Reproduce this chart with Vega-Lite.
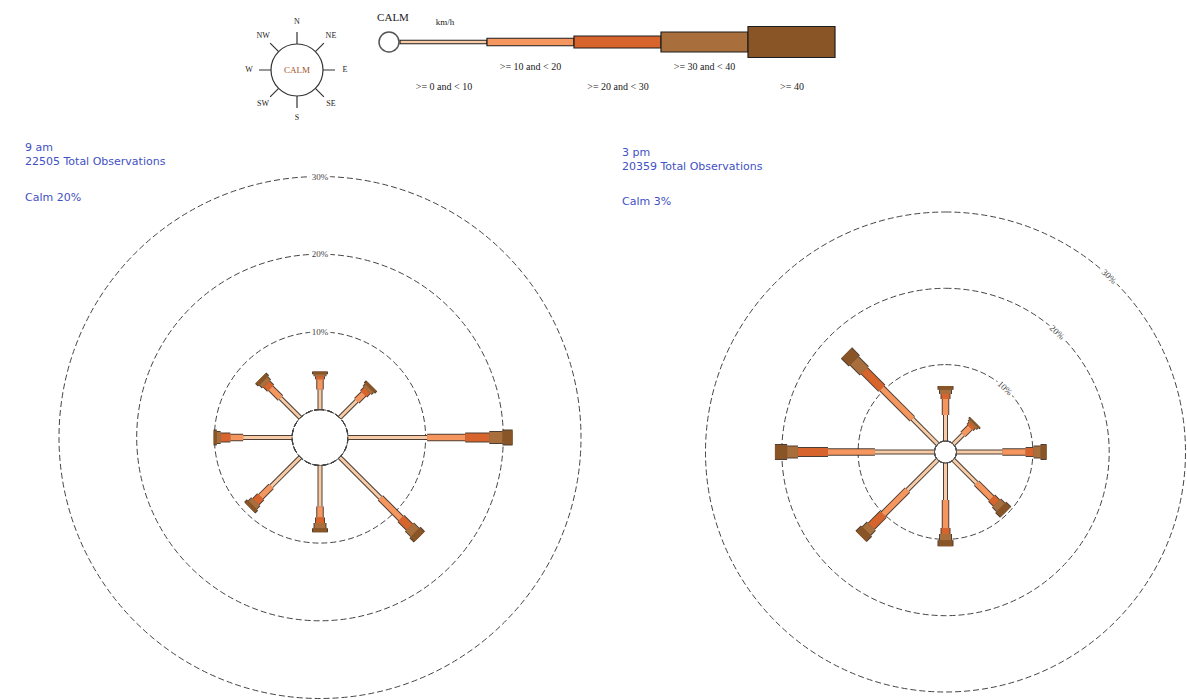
{
  "$schema": "https://vega.github.io/schema/vega-lite/v6.json",
  "padding": 0,
  "bounds": "flush",
  "spacing": 65,
  "config": {"view": {"stroke": null}, "legend": {"disable": true}},
  "datasets": {
    "compass": [
      {"dir": "N", "deg": 0}, {"dir": "NE", "deg": 45}, {"dir": "E", "deg": 90}, {"dir": "SE", "deg": 135},
      {"dir": "S", "deg": 180}, {"dir": "SW", "deg": 225}, {"dir": "W", "deg": 270}, {"dir": "NW", "deg": 315}
    ],
    "classes": [
      {"c": "0-10", "label": ">= 0 and < 10", "lo": 0, "hi": 10},
      {"c": "10-20", "label": ">= 10 and < 20", "lo": 10, "hi": 20},
      {"c": "20-30", "label": ">= 20 and < 30", "lo": 20, "hi": 30},
      {"c": "30-40", "label": ">= 30 and < 40", "lo": 30, "hi": 40},
      {"c": "40+", "label": ">= 40", "lo": 40, "hi": 50}
    ],
    "rings": [{"ring": 10, "label": "10%"}, {"ring": 20, "label": "20%"}, {"ring": 30, "label": "30%"}],
    "rose": [
      {"t": "9 am", "dir": "N", "deg": 0, "c": "0-10", "pct": 2.6},
      {"t": "9 am", "dir": "N", "deg": 0, "c": "10-20", "pct": 1.3},
      {"t": "9 am", "dir": "N", "deg": 0, "c": "20-30", "pct": 0.4},
      {"t": "9 am", "dir": "N", "deg": 0, "c": "30-40", "pct": 0.25},
      {"t": "9 am", "dir": "N", "deg": 0, "c": "40+", "pct": 0.35},
      {"t": "9 am", "dir": "NE", "deg": 45, "c": "0-10", "pct": 3.1},
      {"t": "9 am", "dir": "NE", "deg": 45, "c": "10-20", "pct": 1.25},
      {"t": "9 am", "dir": "NE", "deg": 45, "c": "20-30", "pct": 0.65},
      {"t": "9 am", "dir": "NE", "deg": 45, "c": "30-40", "pct": 0.4},
      {"t": "9 am", "dir": "NE", "deg": 45, "c": "40+", "pct": 0.4},
      {"t": "9 am", "dir": "E", "deg": 90, "c": "0-10", "pct": 10.2},
      {"t": "9 am", "dir": "E", "deg": 90, "c": "10-20", "pct": 4.9},
      {"t": "9 am", "dir": "E", "deg": 90, "c": "20-30", "pct": 3.1},
      {"t": "9 am", "dir": "E", "deg": 90, "c": "30-40", "pct": 1.7},
      {"t": "9 am", "dir": "E", "deg": 90, "c": "40+", "pct": 1.3},
      {"t": "9 am", "dir": "SE", "deg": 135, "c": "0-10", "pct": 7.4},
      {"t": "9 am", "dir": "SE", "deg": 135, "c": "10-20", "pct": 3.75},
      {"t": "9 am", "dir": "SE", "deg": 135, "c": "20-30", "pct": 1.55},
      {"t": "9 am", "dir": "SE", "deg": 135, "c": "30-40", "pct": 1.0},
      {"t": "9 am", "dir": "SE", "deg": 135, "c": "40+", "pct": 0.8},
      {"t": "9 am", "dir": "S", "deg": 180, "c": "0-10", "pct": 5.3},
      {"t": "9 am", "dir": "S", "deg": 180, "c": "10-20", "pct": 1.4},
      {"t": "9 am", "dir": "S", "deg": 180, "c": "20-30", "pct": 0.7},
      {"t": "9 am", "dir": "S", "deg": 180, "c": "30-40", "pct": 0.7},
      {"t": "9 am", "dir": "S", "deg": 180, "c": "40+", "pct": 0.5},
      {"t": "9 am", "dir": "SW", "deg": 225, "c": "0-10", "pct": 5.3},
      {"t": "9 am", "dir": "SW", "deg": 225, "c": "10-20", "pct": 1.9},
      {"t": "9 am", "dir": "SW", "deg": 225, "c": "20-30", "pct": 0.9},
      {"t": "9 am", "dir": "SW", "deg": 225, "c": "30-40", "pct": 0.6},
      {"t": "9 am", "dir": "SW", "deg": 225, "c": "40+", "pct": 0.5},
      {"t": "9 am", "dir": "W", "deg": 270, "c": "0-10", "pct": 6.3},
      {"t": "9 am", "dir": "W", "deg": 270, "c": "10-20", "pct": 1.65},
      {"t": "9 am", "dir": "W", "deg": 270, "c": "20-30", "pct": 1.25},
      {"t": "9 am", "dir": "W", "deg": 270, "c": "30-40", "pct": 0.5},
      {"t": "9 am", "dir": "W", "deg": 270, "c": "40+", "pct": 0.4},
      {"t": "9 am", "dir": "NW", "deg": 315, "c": "0-10", "pct": 3.6},
      {"t": "9 am", "dir": "NW", "deg": 315, "c": "10-20", "pct": 1.8},
      {"t": "9 am", "dir": "NW", "deg": 315, "c": "20-30", "pct": 0.75},
      {"t": "9 am", "dir": "NW", "deg": 315, "c": "30-40", "pct": 0.55},
      {"t": "9 am", "dir": "NW", "deg": 315, "c": "40+", "pct": 0.5},
      {"t": "3 pm", "dir": "N", "deg": 0, "c": "0-10", "pct": 3.4},
      {"t": "3 pm", "dir": "N", "deg": 0, "c": "10-20", "pct": 2.1},
      {"t": "3 pm", "dir": "N", "deg": 0, "c": "20-30", "pct": 0.65},
      {"t": "3 pm", "dir": "N", "deg": 0, "c": "30-40", "pct": 0.55},
      {"t": "3 pm", "dir": "N", "deg": 0, "c": "40+", "pct": 0.5},
      {"t": "3 pm", "dir": "NE", "deg": 45, "c": "0-10", "pct": 1.8},
      {"t": "3 pm", "dir": "NE", "deg": 45, "c": "10-20", "pct": 1.3},
      {"t": "3 pm", "dir": "NE", "deg": 45, "c": "20-30", "pct": 0.4},
      {"t": "3 pm", "dir": "NE", "deg": 45, "c": "30-40", "pct": 0.3},
      {"t": "3 pm", "dir": "NE", "deg": 45, "c": "40+", "pct": 0.25},
      {"t": "3 pm", "dir": "E", "deg": 90, "c": "0-10", "pct": 6.0},
      {"t": "3 pm", "dir": "E", "deg": 90, "c": "10-20", "pct": 3.05},
      {"t": "3 pm", "dir": "E", "deg": 90, "c": "20-30", "pct": 1.05},
      {"t": "3 pm", "dir": "E", "deg": 90, "c": "30-40", "pct": 0.9},
      {"t": "3 pm", "dir": "E", "deg": 90, "c": "40+", "pct": 0.8},
      {"t": "3 pm", "dir": "SE", "deg": 135, "c": "0-10", "pct": 4.3},
      {"t": "3 pm", "dir": "SE", "deg": 135, "c": "10-20", "pct": 2.8},
      {"t": "3 pm", "dir": "SE", "deg": 135, "c": "20-30", "pct": 0.9},
      {"t": "3 pm", "dir": "SE", "deg": 135, "c": "30-40", "pct": 0.8},
      {"t": "3 pm", "dir": "SE", "deg": 135, "c": "40+", "pct": 0.9},
      {"t": "3 pm", "dir": "S", "deg": 180, "c": "0-10", "pct": 4.85},
      {"t": "3 pm", "dir": "S", "deg": 180, "c": "10-20", "pct": 3.65},
      {"t": "3 pm", "dir": "S", "deg": 180, "c": "20-30", "pct": 0.8},
      {"t": "3 pm", "dir": "S", "deg": 180, "c": "30-40", "pct": 0.8},
      {"t": "3 pm", "dir": "S", "deg": 180, "c": "40+", "pct": 0.8},
      {"t": "3 pm", "dir": "SW", "deg": 225, "c": "0-10", "pct": 5.6},
      {"t": "3 pm", "dir": "SW", "deg": 225, "c": "10-20", "pct": 4.5},
      {"t": "3 pm", "dir": "SW", "deg": 225, "c": "20-30", "pct": 2.2},
      {"t": "3 pm", "dir": "SW", "deg": 225, "c": "30-40", "pct": 0.9},
      {"t": "3 pm", "dir": "SW", "deg": 225, "c": "40+", "pct": 1.0},
      {"t": "3 pm", "dir": "W", "deg": 270, "c": "0-10", "pct": 7.8},
      {"t": "3 pm", "dir": "W", "deg": 270, "c": "10-20", "pct": 6.15},
      {"t": "3 pm", "dir": "W", "deg": 270, "c": "20-30", "pct": 3.95},
      {"t": "3 pm", "dir": "W", "deg": 270, "c": "30-40", "pct": 1.4},
      {"t": "3 pm", "dir": "W", "deg": 270, "c": "40+", "pct": 1.6},
      {"t": "3 pm", "dir": "NW", "deg": 315, "c": "0-10", "pct": 4.7},
      {"t": "3 pm", "dir": "NW", "deg": 315, "c": "10-20", "pct": 5.65},
      {"t": "3 pm", "dir": "NW", "deg": 315, "c": "20-30", "pct": 3.25},
      {"t": "3 pm", "dir": "NW", "deg": 315, "c": "30-40", "pct": 1.85},
      {"t": "3 pm", "dir": "NW", "deg": 315, "c": "40+", "pct": 1.45}
    ]
  },
  "vconcat": [
    {
      "width": 594,
      "height": 140,
      "layer": [
        {
          "data": {"name": "compass"},
          "mark": {"type": "arc", "filled": false, "stroke": "#333", "strokeWidth": 1.2, "radius": 38, "radius2": 26, "strokeJoin": "bevel"},
          "encoding": {
            "theta": {"field": "deg", "type": "quantitative", "stack": null, "scale": {"type": "linear", "domain": [0, 360], "range": [0, 6.283185307]}},
            "theta2": {"field": "deg"}
          }
        },
        {
          "data": {"values": [{"calm": "CALM"}]},
          "mark": {"type": "arc", "theta": 0, "theta2": 6.2832, "radius": 26, "fill": "white", "stroke": "#333", "strokeWidth": 1.2},
          "encoding": {}
        },
        {
          "data": {"name": "compass"},
          "mark": {"type": "text", "radius": 48, "font": "Liberation Serif", "fontSize": 8, "color": "#222", "baseline": "middle", "align": "center"},
          "encoding": {
            "theta": {"field": "deg", "type": "quantitative", "stack": null, "scale": {"type": "linear", "domain": [0, 360], "range": [0, 6.283185307]}},
            "text": {"field": "dir"}
          }
        },
        {
          "data": {"values": [{"calm": "CALM"}]},
          "mark": {"type": "text", "font": "Liberation Serif", "fontSize": 9, "color": "#a0522d", "baseline": "middle", "align": "center"},
          "encoding": {"text": {"field": "calm"}}
        },
        {
          "data": {"name": "classes"},
          "mark": {"type": "bar", "stroke": "#1e1e1e", "strokeWidth": 1.2, "yOffset": -28},
          "encoding": {
            "x": {"field": "lo", "type": "quantitative", "scale": {"domain": [0, 50], "range": [400, 835]}, "axis": null},
            "x2": {"field": "hi"},
            "size": {"field": "c", "type": "ordinal", "scale": {"type": "ordinal", "domain": ["0-10", "10-20", "20-30", "30-40", "40+"], "range": [3.5, 7.5, 12, 20, 31]}},
            "color": {"field": "c", "type": "nominal", "scale": {"domain": ["0-10", "10-20", "20-30", "30-40", "40+"], "range": ["#f6cba6", "#f5965f", "#d8642d", "#a86e3b", "#8a5526"]}}
          }
        },
        {
          "data": {"name": "classes"},
          "transform": [{"filter": {"field": "c", "oneOf": ["10-20", "30-40"]}}],
          "mark": {"type": "text", "font": "Liberation Serif", "fontSize": 10, "color": "#222", "dx": 43.5, "dy": -3, "align": "center", "baseline": "middle"},
          "encoding": {
            "x": {"field": "lo", "type": "quantitative"},
            "text": {"field": "label"}
          }
        },
        {
          "data": {"name": "classes"},
          "transform": [{"filter": {"field": "c", "oneOf": ["0-10", "20-30", "40+"]}}],
          "mark": {"type": "text", "font": "Liberation Serif", "fontSize": 10, "color": "#222", "dx": 44, "dy": 17, "align": "center", "baseline": "middle"},
          "encoding": {
            "x": {"field": "lo", "type": "quantitative"},
            "text": {"field": "label"}
          }
        },
        {
          "data": {"values": [{"calm": "CALM", "unit": "km/h"}]},
          "mark": {"type": "point", "shape": "circle", "size": 400, "filled": true, "fill": "white", "stroke": "#555", "strokeWidth": 1.5, "opacity": 1, "xOffset": -11, "yOffset": -28},
          "encoding": {"x": {"datum": 0, "type": "quantitative"}}
        },
        {
          "data": {"values": [{"calm": "CALM", "unit": "km/h"}]},
          "mark": {"type": "text", "font": "Liberation Serif", "fontSize": 11, "color": "#222", "dx": -7, "dy": -52, "align": "center", "baseline": "middle"},
          "encoding": {"x": {"datum": 0, "type": "quantitative"}, "text": {"field": "calm"}}
        },
        {
          "data": {"values": [{"calm": "CALM", "unit": "km/h"}]},
          "mark": {"type": "text", "font": "Liberation Serif", "fontSize": 9, "color": "#222", "dx": 45, "dy": -48, "align": "center", "baseline": "middle"},
          "encoding": {"x": {"datum": 0, "type": "quantitative"}, "text": {"field": "unit"}}
        }
      ],
      "resolve": {"scale": {"size": "independent"}}
    },
    {
      "hconcat": [
        {
          "width": 640,
          "height": 465,
          "title": {"text": ["9 am", "22505 Total Observations"], "subtitle": "Calm 20%", "subtitlePadding": 25, "anchor": "start", "frame": "group", "dx": 25, "dy": 34, "offset": 4, "font": "DejaVu Sans", "fontSize": 11, "fontWeight": "normal", "color": "#3f51c4", "lineHeight": 13.5, "subtitleFont": "DejaVu Sans", "subtitleFontSize": 11, "subtitleColor": "#3f51c4", "subtitleLineHeight": 13.5},
          "layer": [
            {
              "data": {"name": "rings"},
              "mark": {"type": "arc", "theta": 0, "theta2": 6.2832, "filled": false, "stroke": "#444", "strokeWidth": 1, "strokeDash": [6, 3]},
              "encoding": {"radius": {"field": "ring", "type": "quantitative", "stack": null, "scale": {"type": "linear", "zero": false, "domain": [-3.59, 30], "range": [0, 261]}}}
            },
            {
              "data": {"name": "rose"},
              "transform": [
                {"filter": {"field": "t", "equal": "9 am"}},
                {"stack": "pct", "groupby": ["dir"], "sort": [{"field": "c", "order": "ascending"}], "as": ["r0", "r1"]}
              ],
              "mark": {"type": "arc", "filled": false, "stroke": "#3a2a1f", "strokeOpacity": 0.9, "strokeJoin": "bevel"},
              "encoding": {
                "theta": {"field": "deg", "type": "quantitative", "stack": null, "scale": {"type": "linear", "domain": [0, 360], "range": [0, 6.283185307]}},
                "theta2": {"field": "deg"},
                "radius": {"field": "r1", "type": "quantitative", "stack": null, "scale": {"type": "linear", "zero": false, "domain": [-3.59, 30], "range": [0, 261]}},
                "radius2": {"field": "r0"},
                "strokeWidth": {"field": "c", "type": "ordinal", "scale": {"type": "ordinal", "domain": ["0-10", "10-20", "20-30", "30-40", "40+"], "range": [5, 7.5, 10, 13, 16]}}
              }
            },
            {
              "data": {"name": "rose"},
              "transform": [
                {"filter": {"field": "t", "equal": "9 am"}},
                {"stack": "pct", "groupby": ["dir"], "sort": [{"field": "c", "order": "ascending"}], "as": ["r0", "r1"]}
              ],
              "mark": {"type": "arc", "filled": false, "strokeJoin": "bevel"},
              "encoding": {
                "theta": {"field": "deg", "type": "quantitative", "stack": null, "scale": {"type": "linear", "domain": [0, 360], "range": [0, 6.283185307]}},
                "theta2": {"field": "deg"},
                "radius": {"field": "r1", "type": "quantitative", "stack": null, "scale": {"type": "linear", "zero": false, "domain": [-3.59, 30], "range": [0, 261]}},
                "radius2": {"field": "r0"},
                "strokeWidth": {"field": "c", "type": "ordinal", "scale": {"type": "ordinal", "domain": ["0-10", "10-20", "20-30", "30-40", "40+"], "range": [3, 5.5, 8, 11, 14]}},
                "stroke": {"field": "c", "type": "nominal", "scale": {"domain": ["0-10", "10-20", "20-30", "30-40", "40+"], "range": ["#f6cba6", "#f5965f", "#d8642d", "#a86e3b", "#8a5526"]}}
              }
            },
            {
              "data": {"values": [{"calm": 20}]},
              "mark": {"type": "arc", "theta": 0, "theta2": 6.2832, "fill": "white", "stroke": "#444", "strokeWidth": 1, "strokeDash": [6, 3]},
              "encoding": {"radius": {"datum": 0, "type": "quantitative", "stack": null, "scale": {"type": "linear", "zero": false, "domain": [-3.59, 30], "range": [0, 261]}}}
            },
            {
              "data": {"name": "rings"},
              "mark": {"type": "text", "font": "Liberation Serif", "fontSize": 9, "color": "white", "stroke": "white", "strokeWidth": 5, "align": "center", "baseline": "middle"},
              "encoding": {
                "theta": {"datum": 0, "type": "quantitative", "scale": {"type": "linear", "domain": [0, 360], "range": [0, 6.283185307]}},
                "radius": {"field": "ring", "type": "quantitative", "stack": null, "scale": {"type": "linear", "zero": false, "domain": [-3.59, 30], "range": [0, 261]}},
                "text": {"field": "label"}
              }
            },
            {
              "data": {"name": "rings"},
              "mark": {"type": "text", "font": "Liberation Serif", "fontSize": 9, "color": "#444", "align": "center", "baseline": "middle"},
              "encoding": {
                "theta": {"datum": 0, "type": "quantitative", "scale": {"type": "linear", "domain": [0, 360], "range": [0, 6.283185307]}},
                "radius": {"field": "ring", "type": "quantitative", "stack": null, "scale": {"type": "linear", "zero": false, "domain": [-3.59, 30], "range": [0, 261]}},
                "text": {"field": "label"}
              }
            }
          ],
          "resolve": {"scale": {"strokeWidth": "independent"}}
        },
        {
          "width": 483,
          "height": 494,
          "title": {"text": ["3 pm", "20359 Total Observations"], "subtitle": "Calm 3%", "subtitlePadding": 24, "anchor": "start", "frame": "group", "dx": -82, "dy": 6, "offset": 4, "font": "DejaVu Sans", "fontSize": 11, "fontWeight": "normal", "color": "#3f51c4", "lineHeight": 14, "subtitleFont": "DejaVu Sans", "subtitleFontSize": 11, "subtitleColor": "#3f51c4", "subtitleLineHeight": 13.5},
          "layer": [
            {
              "data": {"name": "rings"},
              "mark": {"type": "arc", "theta": 0, "theta2": 6.2832, "filled": false, "stroke": "#444", "strokeWidth": 1, "strokeDash": [6, 3]},
              "encoding": {"radius": {"field": "ring", "type": "quantitative", "stack": null, "scale": {"type": "linear", "zero": false, "domain": [-1.45, 30], "range": [0, 240]}}}
            },
            {
              "data": {"name": "rose"},
              "transform": [
                {"filter": {"field": "t", "equal": "3 pm"}},
                {"stack": "pct", "groupby": ["dir"], "sort": [{"field": "c", "order": "ascending"}], "as": ["r0", "r1"]}
              ],
              "mark": {"type": "arc", "filled": false, "stroke": "#3a2a1f", "strokeOpacity": 0.9, "strokeJoin": "bevel"},
              "encoding": {
                "theta": {"field": "deg", "type": "quantitative", "stack": null, "scale": {"type": "linear", "domain": [0, 360], "range": [0, 6.283185307]}},
                "theta2": {"field": "deg"},
                "radius": {"field": "r1", "type": "quantitative", "stack": null, "scale": {"type": "linear", "zero": false, "domain": [-1.45, 30], "range": [0, 240]}},
                "radius2": {"field": "r0"},
                "strokeWidth": {"field": "c", "type": "ordinal", "scale": {"type": "ordinal", "domain": ["0-10", "10-20", "20-30", "30-40", "40+"], "range": [5, 7.5, 10, 13, 16]}}
              }
            },
            {
              "data": {"name": "rose"},
              "transform": [
                {"filter": {"field": "t", "equal": "3 pm"}},
                {"stack": "pct", "groupby": ["dir"], "sort": [{"field": "c", "order": "ascending"}], "as": ["r0", "r1"]}
              ],
              "mark": {"type": "arc", "filled": false, "strokeJoin": "bevel"},
              "encoding": {
                "theta": {"field": "deg", "type": "quantitative", "stack": null, "scale": {"type": "linear", "domain": [0, 360], "range": [0, 6.283185307]}},
                "theta2": {"field": "deg"},
                "radius": {"field": "r1", "type": "quantitative", "stack": null, "scale": {"type": "linear", "zero": false, "domain": [-1.45, 30], "range": [0, 240]}},
                "radius2": {"field": "r0"},
                "strokeWidth": {"field": "c", "type": "ordinal", "scale": {"type": "ordinal", "domain": ["0-10", "10-20", "20-30", "30-40", "40+"], "range": [3, 5.5, 8, 11, 14]}},
                "stroke": {"field": "c", "type": "nominal", "scale": {"domain": ["0-10", "10-20", "20-30", "30-40", "40+"], "range": ["#f6cba6", "#f5965f", "#d8642d", "#a86e3b", "#8a5526"]}}
              }
            },
            {
              "data": {"values": [{"calm": 3}]},
              "mark": {"type": "arc", "theta": 0, "theta2": 6.2832, "fill": "white", "stroke": "#555", "strokeWidth": 1},
              "encoding": {"radius": {"datum": 0, "type": "quantitative", "stack": null, "scale": {"type": "linear", "zero": false, "domain": [-1.45, 30], "range": [0, 240]}}}
            },
            {
              "data": {"name": "rings"},
              "mark": {"type": "text", "font": "Liberation Serif", "fontSize": 9, "color": "white", "stroke": "white", "strokeWidth": 5, "align": "center", "baseline": "middle", "angle": 43},
              "encoding": {
                "theta": {"datum": 43, "type": "quantitative", "scale": {"type": "linear", "domain": [0, 360], "range": [0, 6.283185307]}},
                "radius": {"field": "ring", "type": "quantitative", "stack": null, "scale": {"type": "linear", "zero": false, "domain": [-1.45, 30], "range": [0, 240]}},
                "text": {"field": "label"}
              }
            },
            {
              "data": {"name": "rings"},
              "mark": {"type": "text", "font": "Liberation Serif", "fontSize": 9, "color": "#444", "align": "center", "baseline": "middle", "angle": 43},
              "encoding": {
                "theta": {"datum": 43, "type": "quantitative", "scale": {"type": "linear", "domain": [0, 360], "range": [0, 6.283185307]}},
                "radius": {"field": "ring", "type": "quantitative", "stack": null, "scale": {"type": "linear", "zero": false, "domain": [-1.45, 30], "range": [0, 240]}},
                "text": {"field": "label"}
              }
            }
          ],
          "resolve": {"scale": {"strokeWidth": "independent"}}
        }
      ],
      "spacing": 64,
      "bounds": "flush",
      "resolve": {"scale": {"radius": "independent", "strokeWidth": "independent", "theta": "independent", "stroke": "independent"}}
    }
  ],
  "resolve": {"scale": {"radius": "independent", "strokeWidth": "independent", "theta": "independent", "stroke": "independent", "x": "independent", "size": "independent", "color": "independent"}}
}
